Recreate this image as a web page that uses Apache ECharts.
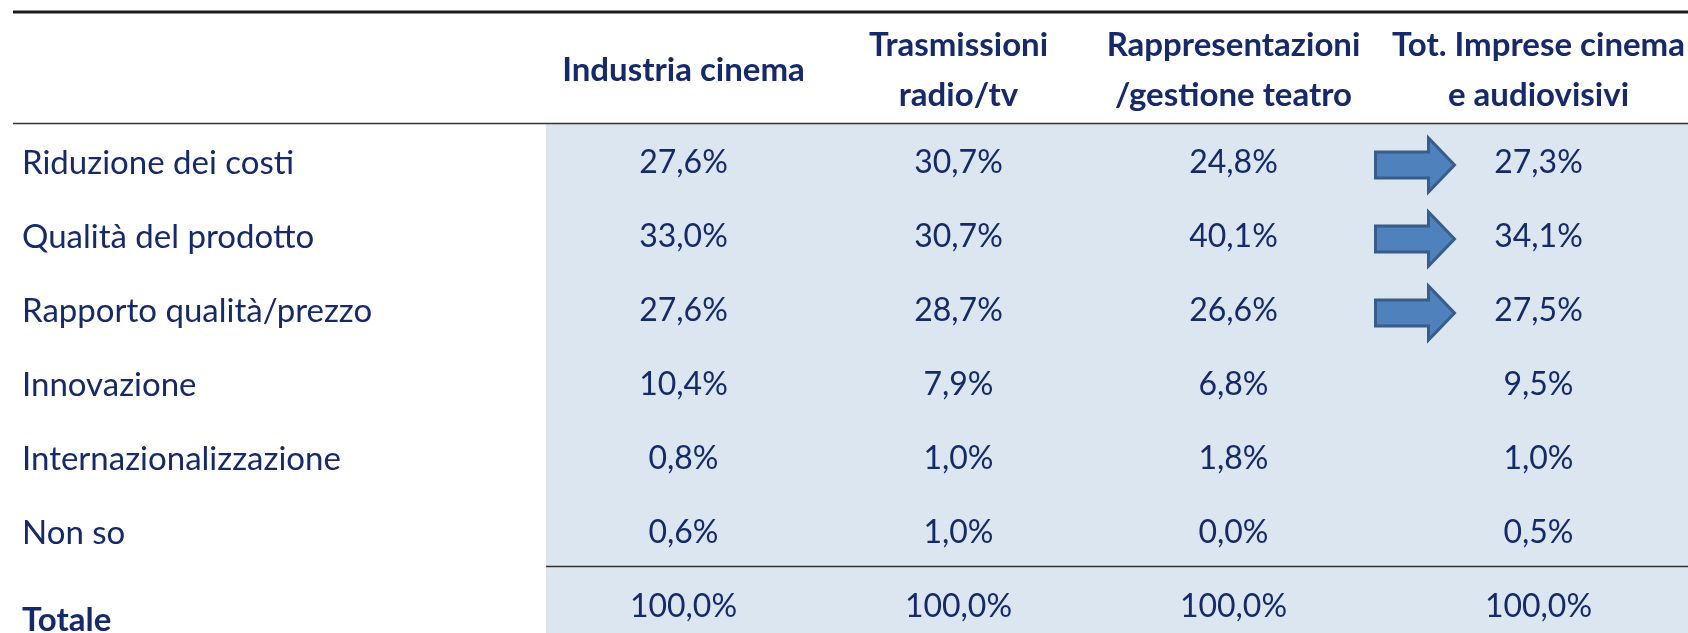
<!DOCTYPE html>
<html>
<head>
<meta charset="utf-8">
<script src="https://cdn.jsdelivr.net/npm/echarts@6/dist/echarts.min.js"></script>
<style>
html, body { margin: 0; padding: 0; background: #fff; }
#main { width: 1688px; height: 633px; }
</style>
</head>
<body>
<div id="main"></div>
<script>
// intestazioni di colonna e di riga
var colonne = ['Industria cinema', 'Trasmissioni\nradio/tv', 'Rappresentazioni\n/gestione teatro', 'Tot. Imprese cinema\ne audiovisivi'];
var righe = ['Riduzione dei costi', 'Qualità del prodotto', 'Rapporto qualità/prezzo', 'Innovazione', 'Internazionalizzazione', 'Non so', 'Totale'];
// valori (%)
var industriaCinema = [27.6, 33.0, 27.6, 10.4, 0.8, 0.6, 100.0];
var radioTv = [30.7, 30.7, 28.7, 7.9, 1.0, 1.0, 100.0];
var teatro = [24.8, 40.1, 26.6, 6.8, 1.8, 0.0, 100.0];
var totImprese = [27.3, 34.1, 27.5, 9.5, 1.0, 0.5, 100.0];
// righe con la freccia verso il totale
var frecce = ['Riduzione dei costi', 'Qualità del prodotto', 'Rapporto qualità/prezzo'];

var TESTO = '#15296b';
var FONT = 'Lato';
var SPOSTA_TOT = 30; // la colonna del totale e' un po' piu' a destra

var myChart = echarts.init(document.getElementById('main'));

var colonneVal = [industriaCinema, radioTv, teatro, totImprese];
var celle = [];
colonneVal.forEach(function (arr, c) {
    arr.forEach(function (v, r) {
        celle.push([c, r, v]);
    });
});
var datiFrecce = frecce.map(function (nome) {
    return [3, righe.indexOf(nome)];
});

function percento(v) {
    return v.toFixed(1).replace('.', ',') + '%';
}

var option = {
    backgroundColor: '#fff',
    animation: false,
    grid: { left: 546, top: 126, width: 1100, height: 518, containLabel: false, outerBoundsMode: 'none' },
    graphic: [
        // sfondo azzurro dei valori
        { type: 'rect', z: 0, shape: { x: 546, y: 123, width: 1142, height: 510 }, style: { fill: '#dce6f1' } },
        { type: 'line', z: 10, shape: { x1: 13, y1: 12, x2: 1688, y2: 12 }, style: { stroke: '#1a1a1a', lineWidth: 3 } },
        { type: 'line', z: 10, shape: { x1: 13, y1: 123.5, x2: 1688, y2: 123.5 }, style: { stroke: '#333', lineWidth: 1.5 } },
        { type: 'line', z: 10, shape: { x1: 546, y1: 566.5, x2: 1688, y2: 566.5 }, style: { stroke: '#333', lineWidth: 1.5 } }
    ],
    xAxis: {
        type: 'category',
        position: 'top',
        data: colonne,
        axisLine: { show: false },
        axisTick: { show: false },
        splitLine: { show: false },
        axisLabel: {
            interval: 0,
            margin: 56,
            verticalAlign: 'middle',
            lineHeight: 50,
            fontSize: 33,
            fontWeight: 'bold',
            fontFamily: FONT,
            color: TESTO,
            formatter: function (t, i) {
                if (i !== 3) return t;
                return t.split('\n').map(function (s) { return '{tot|' + s + '}'; }).join('\n');
            },
            rich: {
                tot: {
                    padding: [0, 0, 0, SPOSTA_TOT * 2],
                    lineHeight: 50,
                    fontSize: 33,
                    fontWeight: 'bold',
                    fontFamily: FONT,
                    color: TESTO
                }
            }
        }
    },
    yAxis: {
        type: 'category',
        inverse: true,
        data: righe,
        axisLine: { show: false },
        axisTick: { show: false },
        splitLine: { show: false },
        axisLabel: {
            interval: 0,
            align: 'left',
            margin: 524,
            verticalAlign: 'middle',
            fontSize: 33,
            fontFamily: FONT,
            color: TESTO,
            formatter: function (t) {
                return t === 'Totale' ? '{tot|' + t + '}' : t;
            },
            rich: {
                tot: {
                    padding: [26, 0, 0, 0],
                    fontSize: 33,
                    fontWeight: 'bold',
                    fontFamily: FONT,
                    color: TESTO
                }
            }
        }
    },
    series: [
        {
            type: 'custom',
            name: 'valori',
            z: 5,
            data: celle,
            renderItem: function (params, api) {
                var c = api.value(0);
                var p = api.coord([c, api.value(1)]);
                return {
                    type: 'text',
                    x: p[0] + (c === 3 ? SPOSTA_TOT : 0),
                    y: p[1],
                    style: {
                        text: percento(api.value(2)),
                        align: 'center',
                        verticalAlign: 'middle',
                        fontSize: 32,
                        fontFamily: FONT,
                        fill: TESTO
                    }
                };
            }
        },
        {
            type: 'custom',
            name: 'frecce',
            z: 5,
            data: datiFrecce,
            renderItem: function (params, api) {
                var p = api.coord([api.value(0), api.value(1)]);
                var cx = p[0] + SPOSTA_TOT, cy = p[1] + 2;
                var l = cx - 163, b = cx - 110, t = cx - 84;
                return {
                    type: 'polygon',
                    shape: {
                        points: [[l, cy - 13], [b, cy - 13], [b, cy - 27], [t, cy], [b, cy + 27], [b, cy + 13], [l, cy + 13]]
                    },
                    style: { fill: '#4f81bd', stroke: '#385d8a', lineWidth: 3 }
                };
            }
        }
    ]
};
myChart.clear();
myChart.setOption(option);
</script>
</body>
</html>
